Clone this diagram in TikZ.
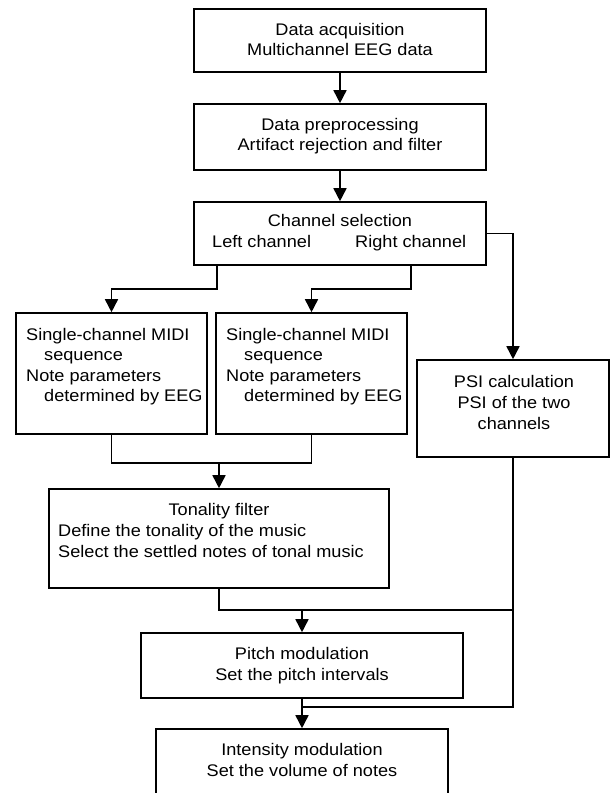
\documentclass[tikz,border=0pt]{standalone}
\usepackage{fontspec}
\setmainfont{Liberation Sans}[FakeStretch=1.08]
\usetikzlibrary{arrows.meta}
\begin{document}
\begin{tikzpicture}[x=1pt,y=-1pt,
  box/.style={draw, line width=1.6pt, inner sep=0pt},
  txt/.style={anchor=base, inner sep=0pt, font=\fontsize{16.8}{20}\selectfont},
  ltxt/.style={txt, anchor=base west},
  link/.style={line width=1.6pt},
  arr/.style={line width=1.6pt, -{Triangle[length=13pt,width=13pt]}}]
\clip (0,0) rectangle (610,793);
\fill[white] (0,0) rectangle (610,793);
% boxes
\node[box, minimum width=292pt, minimum height=63pt] (b1) at (340,40.5) {};
\node[box, minimum width=292pt, minimum height=66pt] (b2) at (340,137) {};
\node[box, minimum width=292pt, minimum height=63pt] (b3) at (340,233.5) {};
\node[box, minimum width=191pt, minimum height=121pt] (midiL) at (111.5,373.5) {};
\node[box, minimum width=191pt, minimum height=121pt] (midiR) at (311.5,373.5) {};
\node[box, minimum width=192pt, minimum height=97pt] (psi) at (513,408.5) {};
\node[box, minimum width=340pt, minimum height=99pt] (tone) at (219,538.5) {};
\node[box, minimum width=322pt, minimum height=65pt] (pitch) at (302,665.5) {};
\node[box, minimum width=292pt, minimum height=81pt] (inten) at (302,769.5) {};
% texts
\node[txt] (t11) at (340,35.7) {Data acquisition};
\node[txt] (t12) at (340,55.7) {Multichannel EEG data};
\node[txt] (t21) at (340,130.5) {Data preprocessing};
\node[txt] (t22) at (340,150.5) {Artifact rejection and filter};
\node[txt] (t31) at (340,226.5) {Channel selection};
\node[ltxt] (t32) at (212,247.5) {Left channel};
\node[ltxt] (t33) at (355,247.5) {Right channel};
\node[ltxt] (tl1) at (26,340) {Single-channel MIDI};
\node[ltxt] (tl2) at (44,360.5) {sequence};
\node[ltxt] (tl3) at (26,381) {Note parameters};
\node[ltxt] (tl4) at (44,401.5) {determined by EEG};
\node[ltxt] (tr1) at (226,340) {Single-channel MIDI};
\node[ltxt] (tr2) at (244,360.5) {sequence};
\node[ltxt] (tr3) at (226,381) {Note parameters};
\node[ltxt] (tr4) at (244,401.5) {determined by EEG};
\node[txt] (tp1) at (514,387) {PSI calculation};
\node[txt] (tp2) at (514,408) {PSI of the two};
\node[txt] (tp3) at (514,429) {channels};
\node[txt] (tt1) at (219,515) {Tonality filter};
\node[ltxt] (tt2) at (58,536) {Define the tonality of the music};
\node[ltxt] (tt3) at (58,557) {Select the settled notes of tonal music};
\node[txt] (tm1) at (302,659) {Pitch modulation};
\node[txt] (tm2) at (302,680) {Set the pitch intervals};
\node[txt] (ti1) at (302,755) {Intensity modulation};
\node[txt] (ti2) at (302,776) {Set the volume of notes};
% connectors
\coordinate (lc) at (217,265);
\coordinate (rc) at (411,265);
\coordinate (j1) at (219,462);
\coordinate (j2) at (302,610);
\coordinate (j3) at (302,707);
\draw[arr] (b1.south) -- (b2.north);
\draw[arr] (b2.south) -- (b3.north);
\draw[arr] (b3.east) -| (psi.north);
\draw[arr] (lc) -- ++(0,24) -| (midiL.north);
\draw[arr] (rc) -- ++(0,24) -| (midiR.north);
\draw[link] (midiL.south) -- ++(0,28) -| (midiR.south);
\draw[arr] (j1) -- (tone.north);
\draw[link] (tone.south) |- (psi.south |- j2);
\draw[arr] (j2) -- (pitch.north);
\draw[link] (psi.south) |- (j3);
\draw[arr] (pitch.south) -- (inten.north);
\end{tikzpicture}
\end{document}
